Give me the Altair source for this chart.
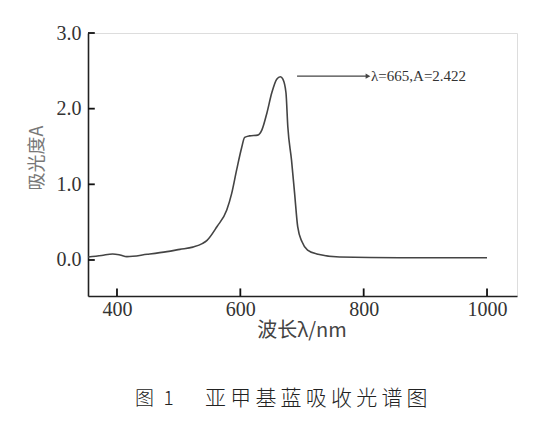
import altair as alt
import pandas as pd

# spectrum
wavelength = [353, 375, 393, 405, 416, 449, 481, 502, 523, 539, 546, 562, 578, 586, 594,
              602, 607, 615, 628, 635, 643, 651, 659, 665, 669, 674, 677, 683, 688, 693,
              700, 709, 724, 761, 858, 1000]
absorbance = [0.04, 0.06, 0.08, 0.066, 0.044, 0.075, 0.11, 0.14, 0.17, 0.22, 0.26, 0.44, 0.66, 0.88, 1.19,
              1.48, 1.62, 1.64, 1.65, 1.72, 1.94, 2.21, 2.39, 2.422, 2.39, 2.21, 1.76, 1.32, 0.88, 0.44,
              0.24, 0.13, 0.08, 0.04, 0.03, 0.03]

x_ticks = [400, 600, 800, 1000]
y_ticks = [0.0, 1.0, 2.0, 3.0]

peak_label = ["λ=665,A=2.422"]
arrow_x = [692, 807]
arrow_y = [2.43, 2.43]

x_title = "波长λ/nm"
y_title = "吸光度A"
fig_head = "图\u20021"
fig_name = "\u2009".join("亚甲基蓝吸收光谱图")

X_DOMAIN = [353, 1048.6]
Y_DOMAIN = [-0.476, 3.0]
INK = "#333333"
SERIF = "Liberation Serif"
CJK = "Noto Sans CJK SC"

W, H = 429, 263

xs = alt.Scale(domain=X_DOMAIN, nice=False, zero=False)
ys = alt.Scale(domain=Y_DOMAIN, nice=False, zero=False)

spec = pd.DataFrame({"wl": wavelength, "A": absorbance})

line = alt.Chart(spec).mark_line(color="#444444", strokeWidth=1.6, interpolate="monotone").encode(
    x=alt.X("wl:Q", scale=xs, axis=alt.Axis(
        values=x_ticks, ticks=False, grid=False, title=None, domainColor="#222222",
        domainWidth=1.6, labelFont=SERIF, labelFontSize=20, labelColor=INK,
        labelPadding=3, format="d")),
    y=alt.Y("A:Q", scale=ys, axis=alt.Axis(
        values=y_ticks, ticks=False, grid=False, title=None, domainColor="#222222",
        domainWidth=1.6, labelFont=SERIF, labelFontSize=20, labelColor=INK,
        labelPadding=7, format=".1f")),
)

tick_x = pd.DataFrame({"xv": x_ticks, "ya": [Y_DOMAIN[0]] * 4, "yb": [Y_DOMAIN[0] + 0.1] * 4})
tick_y = pd.DataFrame({"yv": y_ticks, "xa": [X_DOMAIN[0]] * 4, "xb": [X_DOMAIN[0] + 11] * 4})

xt = alt.Chart(tick_x).mark_rule(color="#111111", strokeWidth=1.8).encode(
    x=alt.X("xv:Q", scale=xs), y=alt.Y("ya:Q", scale=ys), y2="yb:Q")
yt = alt.Chart(tick_y).mark_rule(color="#111111", strokeWidth=1.8).encode(
    y=alt.Y("yv:Q", scale=ys), x=alt.X("xa:Q", scale=xs), x2="xb:Q")

arrow = alt.Chart(pd.DataFrame({"x": [arrow_x[0]], "x2": [arrow_x[1]], "y": [arrow_y[0]]})).mark_rule(
    color="#444444", strokeWidth=1.2).encode(
    x=alt.X("x:Q", scale=xs), x2="x2:Q", y=alt.Y("y:Q", scale=ys))
head = alt.Chart(pd.DataFrame({"x": [arrow_x[1]], "y": [arrow_y[1]]})).mark_point(
    shape="triangle-right", filled=True, color="#444444", size=30, opacity=1).encode(
    x=alt.X("x:Q", scale=xs), y=alt.Y("y:Q", scale=ys))
label = alt.Chart(pd.DataFrame({"x": [812], "y": [arrow_y[0]], "t": peak_label})).mark_text(
    align="left", baseline="middle", font=SERIF, fontSize=15, color=INK).encode(
    x=alt.X("x:Q", scale=xs), y=alt.Y("y:Q", scale=ys), text="t:N")

xtitle = alt.Chart(pd.DataFrame({"t": [x_title]})).mark_text(
    align="center", baseline="middle", font=CJK, fontSize=20, color="#444444").encode(
    x=alt.value(214), y=alt.value(298), text="t:N")
ytitle = alt.Chart(pd.DataFrame({"t": [y_title]})).mark_text(
    align="center", baseline="middle", font=CJK, fontSize=18, color="#777777", angle=270).encode(
    x=alt.value(-50), y=alt.value(125), text="t:N")
title1 = alt.Chart(pd.DataFrame({"t": [fig_head]})).mark_text(
    align="left", baseline="middle", font=CJK, fontSize=19, fontWeight=300, color="#222222").encode(
    x=alt.value(47), y=alt.value(366), text="t:N")
title2 = alt.Chart(pd.DataFrame({"t": [fig_name]})).mark_text(
    align="left", baseline="middle", font=CJK, fontSize=21, fontWeight=300, color="#222222").encode(
    x=alt.value(117), y=alt.value(366), text="t:N")

chart = alt.layer(line, xt, yt, arrow, head, label, xtitle, ytitle, title1, title2).properties(
    width=W, height=H,
    autosize=alt.AutoSizeParams(type="none"),
    padding={"left": 80, "top": 25, "right": 20, "bottom": 124},
).configure_view(stroke=None).configure(background="white")

chart.save("out.html", embed_options={"renderer": "svg", "actions": False})
